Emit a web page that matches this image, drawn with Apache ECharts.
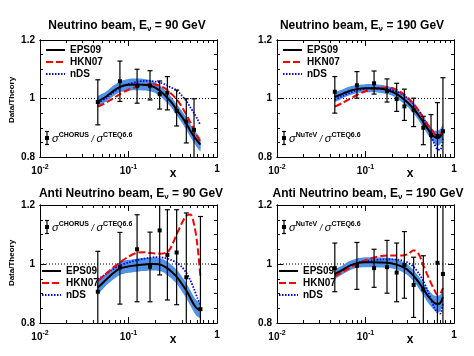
<!DOCTYPE html>
<html>
<head>
<meta charset="utf-8">
<script src="https://cdn.jsdelivr.net/npm/echarts@6/dist/echarts.min.js"></script>
<style>
html,body{margin:0;padding:0;background:#fff}
#main{width:474px;height:356px}
</style>
</head>
<body>
<div id="main"></div>
<script>
var FONT = '"Liberation Sans", Arial, Helvetica, sans-serif';
var BAND = '#5092e6';

// theory curve x grid
var curveX = [0.045,0.055,0.065,0.08,0.1,0.125,0.15,0.175,0.2,0.225,0.25,0.275,0.3,0.35,0.4,0.45,0.5,0.55,0.6,0.65];
var curveXLong = [0.045,0.055,0.065,0.08,0.1,0.125,0.15,0.175,0.2,0.225,0.25,0.275,0.3,0.35,0.4,0.45,0.5,0.55,0.6,0.65,0.7,0.75];

// Neutrino, 90 GeV (CHORUS)
var nu90X  = [0.045,0.08,0.125,0.175,0.225,0.275,0.35,0.45,0.55];
var nu90Y  = [0.988,1.059,1.043,1.044,1.015,1.020,0.958,0.921,0.893];
var nu90Lo = [0.910,0.990,0.984,0.995,0.964,0.961,0.906,0.848,0.780];
var nu90Hi = [1.064,1.128,1.100,1.095,1.060,1.075,1.029,0.999,0.999];
var nu90Eps = [0.990,1.005,1.022,1.040,1.047,1.048,1.047,1.044,1.037,1.027,1.015,1.002,0.990,0.962,0.938,0.914,0.890,0.870,0.855,0.842];
var nu90Err = [0.017,0.017,0.018,0.019,0.020,0.020,0.020,0.019,0.018,0.018,0.018,0.018,0.018,0.019,0.020,0.021,0.022,0.022,0.023,0.023];
var nu90Hkn = [0.972,0.985,0.998,1.015,1.030,1.040,1.046,1.049,1.048,1.044,1.037,1.029,1.018,0.997,0.972,0.945,0.918,0.893,0.870,0.850];
var nu90Nds = [0.985,1.000,1.017,1.037,1.050,1.057,1.060,1.060,1.058,1.055,1.050,1.045,1.038,1.028,1.010,0.992,0.970,0.950,0.930,0.908];

// Neutrino, 190 GeV (NuTeV)
var nu190X  = [0.045,0.08,0.125,0.175,0.225,0.275,0.35,0.45,0.55,0.65,0.75];
var nu190Y  = [1.023,1.045,1.052,1.026,0.998,0.973,0.960,0.900,0.875,0.872,0.888];
var nu190Lo = [0.950,1.001,1.015,0.988,0.956,0.925,0.904,0.842,0.780,0.780,0.780];
var nu190Hi = [1.075,1.092,1.094,1.067,1.052,1.032,1.001,0.939,0.945,0.986,1.071];
var nu190Eps = [1.005,1.016,1.025,1.032,1.035,1.035,1.033,1.029,1.023,1.015,1.006,0.996,0.986,0.965,0.942,0.919,0.898,0.881,0.869,0.864,0.870,0.888];
var nu190Err = [0.016,0.015,0.015,0.014,0.014,0.014,0.014,0.014,0.014,0.014,0.015,0.015,0.015,0.016,0.017,0.018,0.019,0.020,0.022,0.026,0.026,0.022];
var nu190Hkn = [0.972,0.985,0.997,1.012,1.025,1.033,1.037,1.038,1.036,1.030,1.022,1.013,1.003,0.982,0.958,0.935,0.913,0.895,0.880,0.872,0.877,0.895];
var nu190Nds = [0.995,1.008,1.018,1.028,1.033,1.036,1.036,1.034,1.030,1.024,1.017,1.009,1.000,0.980,0.958,0.935,0.905,0.872,0.845,0.826,0.825,0.865];

// Anti neutrino, 90 GeV (CHORUS)
var anu90X  = [0.045,0.08,0.125,0.175,0.225,0.275,0.35,0.45,0.65];
var anu90Y  = [0.906,0.988,1.050,0.991,1.114,1.031,1.039,0.955,0.847];
var anu90Lo = [0.780,0.864,0.872,0.872,0.963,0.878,0.862,0.780,0.780];
var anu90Hi = [1.043,1.107,1.167,1.108,1.220,1.184,1.184,1.173,1.161];
var anu90Eps = [0.920,0.945,0.965,0.985,0.992,0.996,0.998,1.000,1.000,0.998,0.993,0.985,0.976,0.957,0.933,0.910,0.885,0.862,0.848,0.843];
var anu90Err = [0.020,0.020,0.021,0.022,0.022,0.022,0.022,0.022,0.022,0.022,0.022,0.023,0.023,0.024,0.025,0.026,0.026,0.026,0.026,0.026];
var anu90Hkn = [0.942,0.965,0.985,1.005,1.025,1.038,1.040,1.037,1.036,1.035,1.036,1.040,1.055,1.100,1.138,1.163,1.168,1.135,1.065,0.955];
var anu90Nds = [0.948,0.965,0.980,0.995,1.005,1.013,1.018,1.021,1.023,1.023,1.021,1.018,1.014,1.005,0.990,0.970,0.945,0.915,0.885,0.862];

// Anti neutrino, 190 GeV (NuTeV)
var anu190X  = [0.045,0.08,0.125,0.175,0.225,0.275,0.35,0.45,0.65,0.75];
var anu190Y  = [0.986,0.994,0.986,0.989,0.971,0.997,0.929,0.914,1.004,0.966];
var anu190Lo = [0.906,0.914,0.921,0.901,0.872,0.884,0.819,0.780,0.780,0.780];
var anu190Hi = [1.071,1.073,1.050,1.080,1.071,1.110,1.023,1.028,1.220,1.220];
var anu190Eps = [0.966,0.980,0.993,1.003,1.006,1.006,1.005,1.004,1.002,0.998,0.993,0.987,0.980,0.960,0.938,0.915,0.894,0.879,0.868,0.864,0.868,0.888];
var anu190Err = [0.015,0.015,0.016,0.016,0.017,0.017,0.017,0.017,0.017,0.017,0.017,0.018,0.018,0.019,0.020,0.021,0.022,0.023,0.025,0.028,0.028,0.024];
var anu190Hkn = [0.958,0.972,0.985,1.000,1.013,1.022,1.027,1.029,1.029,1.029,1.029,1.030,1.033,1.047,1.033,0.995,0.963,0.935,0.912,0.896,0.900,0.918];
var anu190Nds = [0.965,0.980,0.993,1.004,1.010,1.013,1.015,1.016,1.016,1.015,1.013,1.010,1.005,0.990,0.968,0.943,0.912,0.880,0.852,0.835,0.832,0.868];

// axes
var xMin = 0.01, xMax = 1;
var yMin = 0.8, yMax = 1.2;
var xMajorTicks = [0.01, 0.1, 1];
var xMinorTicks = [0.02,0.03,0.04,0.05,0.06,0.07,0.08,0.09,0.2,0.3,0.4,0.5,0.6,0.7,0.8,0.9];
var yMajorTicks = [0.8, 1, 1.2];
var refLine = [[0.01, 1], [1, 1]];

var panels = [
  {left:40, top:40, height:117, title:'Neutrino beam, E{v|ν} = 90 GeV', titleX:127, titleY:26, exp:'CHORUS',
   cx:curveX, eps:nu90Eps, err:nu90Err, hkn:nu90Hkn, nds:nu90Nds, dx:nu90X, dy:nu90Y, dlo:nu90Lo, dhi:nu90Hi,
   legLeft:45, legTop:44, srcY:138, yLabelY:100},
  {left:277, top:40, height:117, title:'Neutrino beam, E{v|ν} = 190 GeV', titleX:362, titleY:26, exp:'NuTeV',
   cx:curveXLong, eps:nu190Eps, err:nu190Err, hkn:nu190Hkn, nds:nu190Nds, dx:nu190X, dy:nu190Y, dlo:nu190Lo, dhi:nu190Hi,
   legLeft:282, legTop:44, srcY:138},
  {left:40, top:205, height:118, title:'Anti Neutrino beam, E{v|ν} = 90 GeV', titleX:131, titleY:194, exp:'CHORUS',
   cx:curveX, eps:anu90Eps, err:anu90Err, hkn:anu90Hkn, nds:anu90Nds, dx:anu90X, dy:anu90Y, dlo:anu90Lo, dhi:anu90Hi,
   legLeft:41, legTop:265, srcY:227, yLabelY:263},
  {left:277, top:205, height:118, title:'Anti Neutrino beam, E{v|ν} = 190 GeV', titleX:368, titleY:194, exp:'NuTeV',
   cx:curveXLong, eps:anu190Eps, err:anu190Err, hkn:anu190Hkn, nds:anu190Nds, dx:anu190X, dy:anu190Y, dlo:anu190Lo, dhi:anu190Hi,
   legLeft:278, legTop:265, srcY:227}
];

function zip(a, b) {
  return a.map(function (v, i) { return [v, b[i]]; });
}

function xAxisDef(grid, pos, ticks, len, withLabels) {
  return {
    type: 'log', logBase: 10, gridIndex: grid, position: pos, min: xMin, max: xMax,
    axisLine: {show: true, onZero: false, lineStyle: {color: '#000', width: 1}},
    axisTick: {show: true, inside: true, length: len, customValues: ticks, lineStyle: {color: '#000', width: 1}},
    axisLabel: withLabels ? {
      show: true, customValues: xMajorTicks, margin: 7, color: '#000',
      formatter: function (v) {
        if (v < 0.05) return '{b|10}{p|-2}';
        if (v < 0.5) return '{b|10}{p|-1}';
        return '{b|1}';
      },
      rich: {
        b: {fontSize: 10, fontWeight: 'bold', fontFamily: FONT, color: '#000'},
        p: {fontSize: 7, fontWeight: 'bold', fontFamily: FONT, color: '#000', padding: [0, 0, 7, 0]}
      }
    } : {show: false},
    splitLine: {show: false}
  };
}

function yAxisDef(grid, pos, minor, withLabels) {
  var ax = {
    type: 'value', gridIndex: grid, position: pos, min: yMin, max: yMax,
    axisLine: {show: true, onZero: false, lineStyle: {color: '#000', width: 1}},
    axisTick: {show: true, inside: true, length: minor ? 3 : 6, lineStyle: {color: '#000', width: 1}},
    axisLabel: withLabels ? {
      show: true, customValues: yMajorTicks, margin: 5, color: '#000',
      fontSize: 10, fontWeight: 'bold', fontFamily: FONT,
      formatter: function (v) { return Math.abs(v - 1) < 1e-6 ? '1' : v.toFixed(1); }
    } : {show: false},
    splitLine: {show: false}
  };
  if (minor) { ax.interval = 0.05; } else { ax.axisTick.customValues = yMajorTicks; }
  return ax;
}

function renderBand(params, api) {
  if (params.dataIndexInside !== 0) return null;
  var n = params.dataInsideLength, up = [], lo = [];
  for (var j = 0; j < n; j++) {
    up.push(api.coord([api.value(0, j), api.value(2, j)]));
    lo.push(api.coord([api.value(0, j), api.value(1, j)]));
  }
  return {type: 'polygon', shape: {points: up.concat(lo.reverse()), smooth: 0.2}, style: {fill: BAND}};
}

function renderErr(params, api) {
  var x = api.value(0), y = api.value(1), lo = api.value(2), hi = api.value(3);
  var p = api.coord([x, y]);
  var pl = api.coord([x, Math.max(lo, yMin)]);
  var ph = api.coord([x, Math.min(hi, yMax)]);
  var st = {stroke: '#000', lineWidth: 1.2};
  var kids = [{type: 'line', shape: {x1: p[0], y1: pl[1], x2: p[0], y2: ph[1]}, style: st}];
  if (lo >= yMin) kids.push({type: 'line', shape: {x1: p[0] - 2.5, y1: pl[1], x2: p[0] + 2.5, y2: pl[1]}, style: st});
  if (hi <= yMax) kids.push({type: 'line', shape: {x1: p[0] - 2.5, y1: ph[1], x2: p[0] + 2.5, y2: ph[1]}, style: st});
  kids.push({type: 'rect', shape: {x: p[0] - 2, y: p[1] - 2, width: 4, height: 4}, style: {fill: '#000'}});
  return {type: 'group', children: kids};
}

var option = {
  animation: false,
  backgroundColor: '#fff',
  grid: [], xAxis: [], yAxis: [], series: [], legend: [], graphic: []
};

panels.forEach(function (p, i) {
  option.grid.push({left: p.left, top: p.top, width: 177, height: p.height, outerBoundsMode: 'none'});
  var xi = option.xAxis.length, yi = option.yAxis.length;
  option.xAxis.push(
    xAxisDef(i, 'bottom', xMajorTicks, 6, true),
    xAxisDef(i, 'bottom', xMinorTicks, 3, false),
    xAxisDef(i, 'top', xMajorTicks, 6, false),
    xAxisDef(i, 'top', xMinorTicks, 3, false)
  );
  option.yAxis.push(
    yAxisDef(i, 'left', true, true),
    yAxisDef(i, 'left', false, false),
    yAxisDef(i, 'right', true, false),
    yAxisDef(i, 'right', false, false)
  );
  var base = {xAxisIndex: xi, yAxisIndex: yi};

  option.series.push(Object.assign({
    name: 'ref', type: 'line', data: refLine, symbol: 'none', silent: true, z: 1,
    lineStyle: {color: '#000', width: 1, type: [1, 2]}
  }, base));

  option.series.push(Object.assign({
    name: 'band', type: 'custom', renderItem: renderBand, silent: true, z: 2,
    encode: {x: 0, y: [1, 2]},
    data: p.cx.map(function (x, k) { return [x, p.eps[k] - p.err[k], p.eps[k] + p.err[k]]; })
  }, base));

  option.series.push(Object.assign({
    name: 'nDS', type: 'line', data: zip(p.cx, p.nds), symbol: 'none', smooth: 0.3, z: 3,
    lineStyle: {color: '#0000ff', width: 1.8, type: [1.5, 1.5]}
  }, base));

  option.series.push(Object.assign({
    name: 'HKN07', type: 'line', data: zip(p.cx, p.hkn), symbol: 'none', smooth: 0.3, z: 3,
    lineStyle: {color: '#ff0000', width: 2, type: [7, 3]}
  }, base));

  option.series.push(Object.assign({
    name: 'EPS09', type: 'line', data: zip(p.cx, p.eps), symbol: 'none', smooth: 0.3, z: 4,
    lineStyle: {color: '#000', width: 2}
  }, base));

  option.series.push(Object.assign({
    name: p.exp, type: 'custom', renderItem: renderErr, z: 5,
    encode: {x: 0, y: [1, 2, 3]},
    data: p.dx.map(function (x, k) { return [x, p.dy[k], p.dlo[k], p.dhi[k]]; })
  }, base));

  option.legend.push({
    left: p.legLeft, top: p.legTop, orient: 'vertical', padding: 0, itemGap: 0,
    itemWidth: 19, itemHeight: 8, selectedMode: false,
    itemStyle: {opacity: 0, borderWidth: 0},
    data: ['EPS09', 'HKN07', 'nDS'],
    textStyle: {fontSize: 10, fontWeight: 'bold', fontFamily: FONT, color: '#000', lineHeight: 12}
  });

  // title
  option.graphic.push({
    type: 'text', x: p.titleX, y: p.titleY, silent: true,
    style: {
      text: p.title, fill: '#000', font: 'bold 12px ' + FONT,
      textAlign: 'center', textVerticalAlign: 'middle',
      rich: {v: {fontSize: 8, fontWeight: 'bold', fontFamily: FONT, fill: '#000', padding: [6, 0, 0, 0]}}
    }
  });
  // x axis title
  option.graphic.push({
    type: 'text', x: p.left + 133, y: p.top + p.height + 17, silent: true,
    style: {text: 'x', fill: '#000', font: 'bold 12px ' + FONT, textAlign: 'center', textVerticalAlign: 'middle'}
  });
  // y axis title
  if (p.yLabelY) {
    option.graphic.push({
      type: 'text', x: 12, y: p.yLabelY, rotation: Math.PI / 2, silent: true,
      style: {text: 'Data/Theory', fill: '#000', font: 'bold 8px ' + FONT, textAlign: 'center', textVerticalAlign: 'middle'}
    });
  }
  // data source label with marker
  var mx = p.left + 7, my = p.srcY;
  option.graphic.push({
    type: 'group', silent: true,
    children: [
      {type: 'line', shape: {x1: mx, y1: my - 6.5, x2: mx, y2: my + 6.5}, style: {stroke: '#000', lineWidth: 1.2}},
      {type: 'line', shape: {x1: mx - 2, y1: my - 6.5, x2: mx + 2, y2: my - 6.5}, style: {stroke: '#000', lineWidth: 1.2}},
      {type: 'line', shape: {x1: mx - 2, y1: my + 6.5, x2: mx + 2, y2: my + 6.5}, style: {stroke: '#000', lineWidth: 1.2}},
      {type: 'rect', shape: {x: mx - 2, y: my - 2, width: 4, height: 4}, style: {fill: '#000'}},
      {type: 'text', x: mx + 5, y: my + 1,
       style: {
         text: '{s|σ}{p|' + p.exp + '}{d| / }{s|σ}{p|CTEQ6.6}', fill: '#000',
         textAlign: 'left', textVerticalAlign: 'middle',
         rich: {
           s: {fontSize: 11, fontStyle: 'italic', fontFamily: FONT, fill: '#000'},
           d: {fontSize: 9, fontStyle: 'italic', fontFamily: FONT, fill: '#000'},
           p: {fontSize: 7, fontWeight: 'bold', fontFamily: FONT, fill: '#000', padding: [0, 0, 8, 0]}
         }
       }}
    ]
  });
});

var chart = echarts.init(document.getElementById('main'), null, {renderer: 'canvas'});
chart.setOption(option);
</script>
</body>
</html>
